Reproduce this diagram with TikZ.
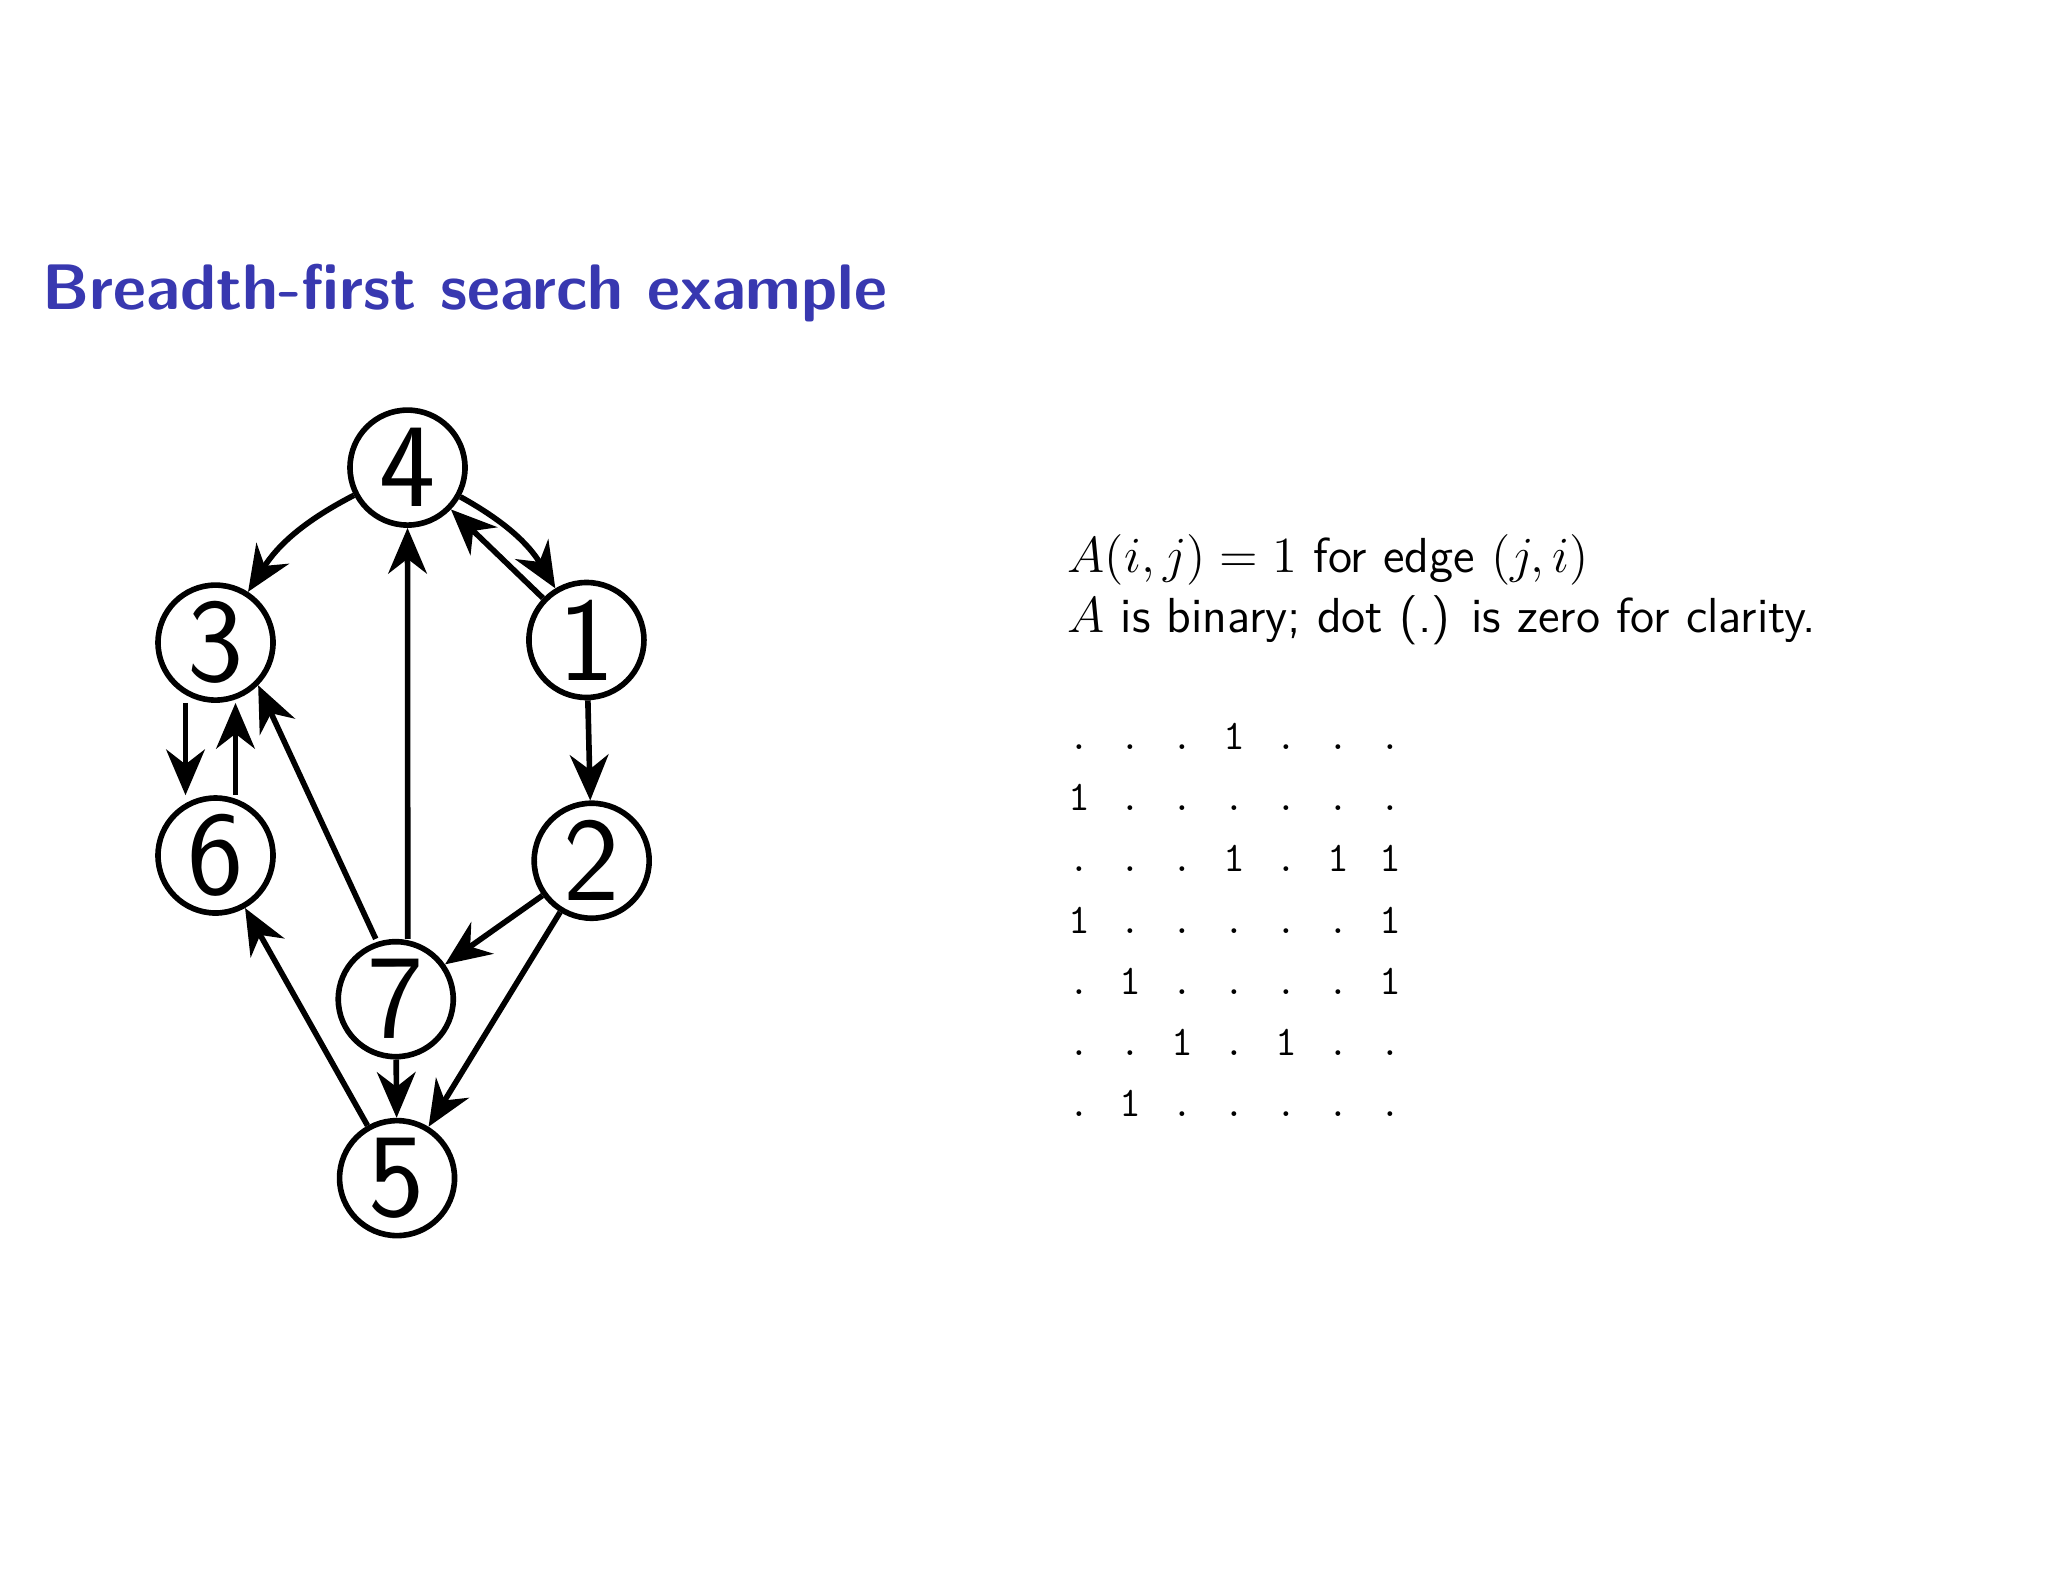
\documentclass[tikz,border=0pt]{standalone}
\usetikzlibrary{arrows.meta}
\definecolor{titleblue}{RGB}{56,56,176}
\begin{document}
\begin{tikzpicture}[x=0.01306cm,y=-0.01306cm,
  vert/.style={circle,draw,line width=1.6pt,minimum size=1.15cm,inner sep=0pt,font=\fontsize{34}{34}\selectfont\sffamily},
  edge/.style={line width=1.6pt,-{Stealth[length=13pt,width=11pt]}},
  cell/.style={anchor=base,font=\fontsize{12}{12}\selectfont\ttfamily,inner sep=0pt}]
\useasboundingbox (0,0) rectangle (1568,1211);
\node[anchor=base west,text=titleblue,font=\fontsize{18.3}{20}\selectfont\sffamily\bfseries,inner sep=0pt] (title) at (32,237) {Breadth-first search example};
\node[vert] (n4) at (312,358) {4};
\node[vert] (n3) at (165,492) {3};
\node[vert] (n1) at (449,490) {1};
\node[vert] (n6) at (165,655) {6};
\node[vert] (n2) at (453,659) {2};
\node[vert] (n7) at (303,765) {7};
\node[vert] (n5) at (304,902) {5};
\draw[edge] (n4) to[bend right=15] (n3);
\draw[edge] (n4) to[bend left=15] (n1);
\draw[edge] (n1) -- (n4);
\draw[edge] (n1) -- (n2);
\draw[edge] ([xshift=-0.3cm]n3.south) -- ([xshift=-0.3cm]n6.north);
\draw[edge] ([xshift=0.2cm]n6.north) -- ([xshift=0.2cm]n3.south);
\draw[edge] ([xshift=-0.2cm]n7.north) -- (n3.south east);
\draw[edge] ([xshift=0.12cm]n7.north) -- (n4);
\draw[edge] (n2) -- (n7);
\draw[edge] (n2) -- (n5);
\draw[edge] (n7) -- (n5);
\draw[edge] (n5) -- (n6);
\node[anchor=base west,inner sep=0pt,font=\fontsize{14}{14}\selectfont\sffamily] (l1) at (817,438) {$A(i,j)=1$ for edge $(j,i)$};
\node[anchor=base west,inner sep=0pt,font=\fontsize{14}{14}\selectfont\sffamily] (l2) at (817,484) {$A$ is binary; dot (.) is zero for clarity.};
\foreach \r [count=\i] in {{.,.,.,1,.,.,.},{1,.,.,.,.,.,.},{.,.,.,1,.,1,1},{1,.,.,.,.,.,1},{.,1,.,.,.,.,1},{.,.,1,.,1,.,.},{.,1,.,.,.,.,.}}
  \foreach \c [count=\j] in \r
    \node[cell] (m\i\j) at ({826+39.7*(\j-1)},{574+46.8*(\i-1)}) {\c};
\end{tikzpicture}
\end{document}
